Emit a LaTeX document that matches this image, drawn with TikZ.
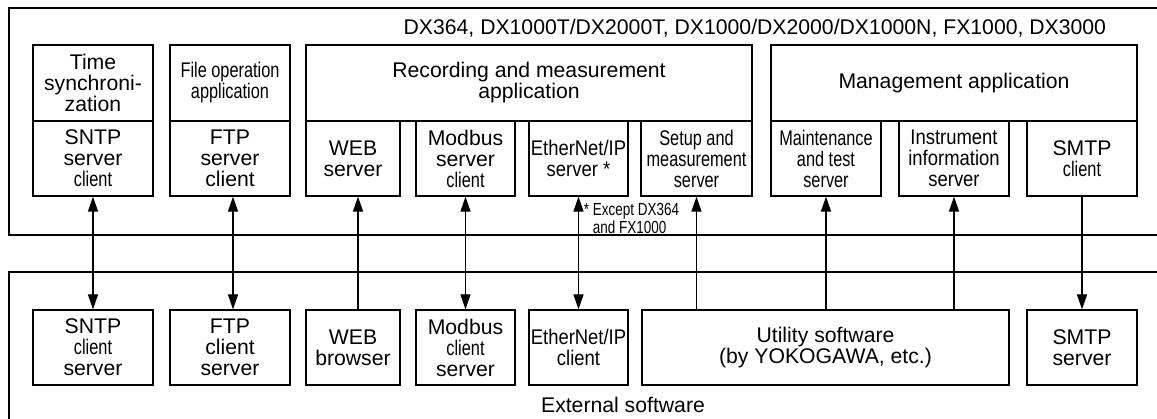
\documentclass[tikz,border=0pt]{standalone}
\usepackage{fontspec}
\setmainfont{Liberation Sans}
\newfontfamily\condfont{Liberation Sans}[FakeStretch=0.77]
\newfontfamily\semifont{Liberation Sans}[FakeStretch=0.87]
\usetikzlibrary{arrows.meta}

\begin{document}
\begin{tikzpicture}[x=1pt,y=-1pt,line width=1.2pt,
    >={Triangle[length=15pt,width=10pt]},
    main box/.style={rectangle,draw,align=center,inner sep=0pt,
      font=\fontsize{21.2}{21}\selectfont},
    app box/.style={main box,minimum height=76pt},
    proto box/.style={main box,minimum height=75pt}]

\useasboundingbox (0,0) rectangle (1157,419);

% instrument and external frames
\draw (1157,8) -- (9,8) -- (9,235) -- (1157,235);
\draw (1157,272) -- (9,272) -- (9,419);

\node[anchor=base east, font=\fontsize{21.2}{21}\selectfont] (models) at (1110,35)
  {DX364, DX1000T/DX2000T, DX1000/DX2000/DX1000N, FX1000, DX3000};

% applications
\node[app box, minimum width=120pt] (tsync) at (93,83) {Time\\synchroni-\\zation};
\node[app box, minimum width=120pt] (fileop) at (230,83) {{\condfont File operation}\\{\condfont application}};
\node[app box, minimum width=446pt] (rec) at (529,83) {Recording and measurement\\application};
\node[app box, minimum width=366pt] (mgmt) at (954,83) {Management application};

% instrument side protocols
\node[proto box, minimum width=120pt] (sntpS) at (93,158.5) {SNTP\\server\\{\condfont client}};
\node[proto box, minimum width=120pt] (ftpS) at (230,158.5) {FTP\\server\\client};
\node[proto box, minimum width=94pt] (webS) at (353,158.5) {WEB\\server};
\node[proto box, minimum width=99pt] (modS) at (465.5,158.5) {Modbus\\server\\{\condfont client}};
\node[proto box, minimum width=99pt] (enipS) at (578.5,158.5) {{\semifont EtherNet/IP}\\{\semifont server *}};
\node[proto box, minimum width=111pt] (setupS) at (696.5,158.5) {{\condfont Setup and}\\{\condfont measurement}\\{\condfont server}};
\node[proto box, minimum width=110pt] (maintS) at (826,158.5) {{\condfont Maintenance}\\{\condfont and test}\\{\condfont server}};
\node[proto box, minimum width=110pt] (instS) at (954,158.5) {{\semifont Instrument}\\{\semifont information}\\{\semifont server}};
\node[proto box, minimum width=110pt] (smtpS) at (1082,158.5) {SMTP\\{\condfont client}};

\node[anchor=north west, align=left, font=\condfont\fontsize{17.5}{18}\selectfont] (note) at (580,199)
  {* Except DX364\\\phantom{* }and FX1000};

% external software
\node[proto box, minimum width=120pt] (sntpC) at (93,347.5) {SNTP\\{\condfont client}\\server};
\node[proto box, minimum width=120pt] (ftpC) at (230,347.5) {FTP\\client\\server};
\node[proto box, minimum width=94pt] (webC) at (353,347.5) {WEB\\browser};
\node[proto box, minimum width=99pt] (modC) at (465.5,347.5) {Modbus\\{\condfont client}\\server};
\node[proto box, minimum width=99pt] (enipC) at (578.5,347.5) {{\semifont EtherNet/IP}\\{\semifont client}};
\node[proto box, minimum width=367pt] (util) at (825.5,347.5) {Utility software\\(by YOKOGAWA, etc.)};
\node[proto box, minimum width=110pt] (smtpC) at (1082,347.5) {SMTP\\server};

\node[font=\fontsize{21.2}{21}\selectfont] (ext) at (623,405) {External software};

\path
(sntpS) edge[<->] (sntpC)
([xshift=3pt]ftpS.south) edge[<->] ([xshift=3pt]ftpC.north)
([xshift=5pt]webS.south) edge[<-] ([xshift=5pt]webC.north)
(modS) edge[<->] (modC)
(enipS) edge[<->] (enipC)
(setupS.south) edge[<-] (setupS.south |- util.north)
(maintS) edge[<-] (maintS |- util.north)
(instS) edge[<-] (instS |- util.north)
(smtpS) edge[->] (smtpC);

\end{tikzpicture}
\end{document}
